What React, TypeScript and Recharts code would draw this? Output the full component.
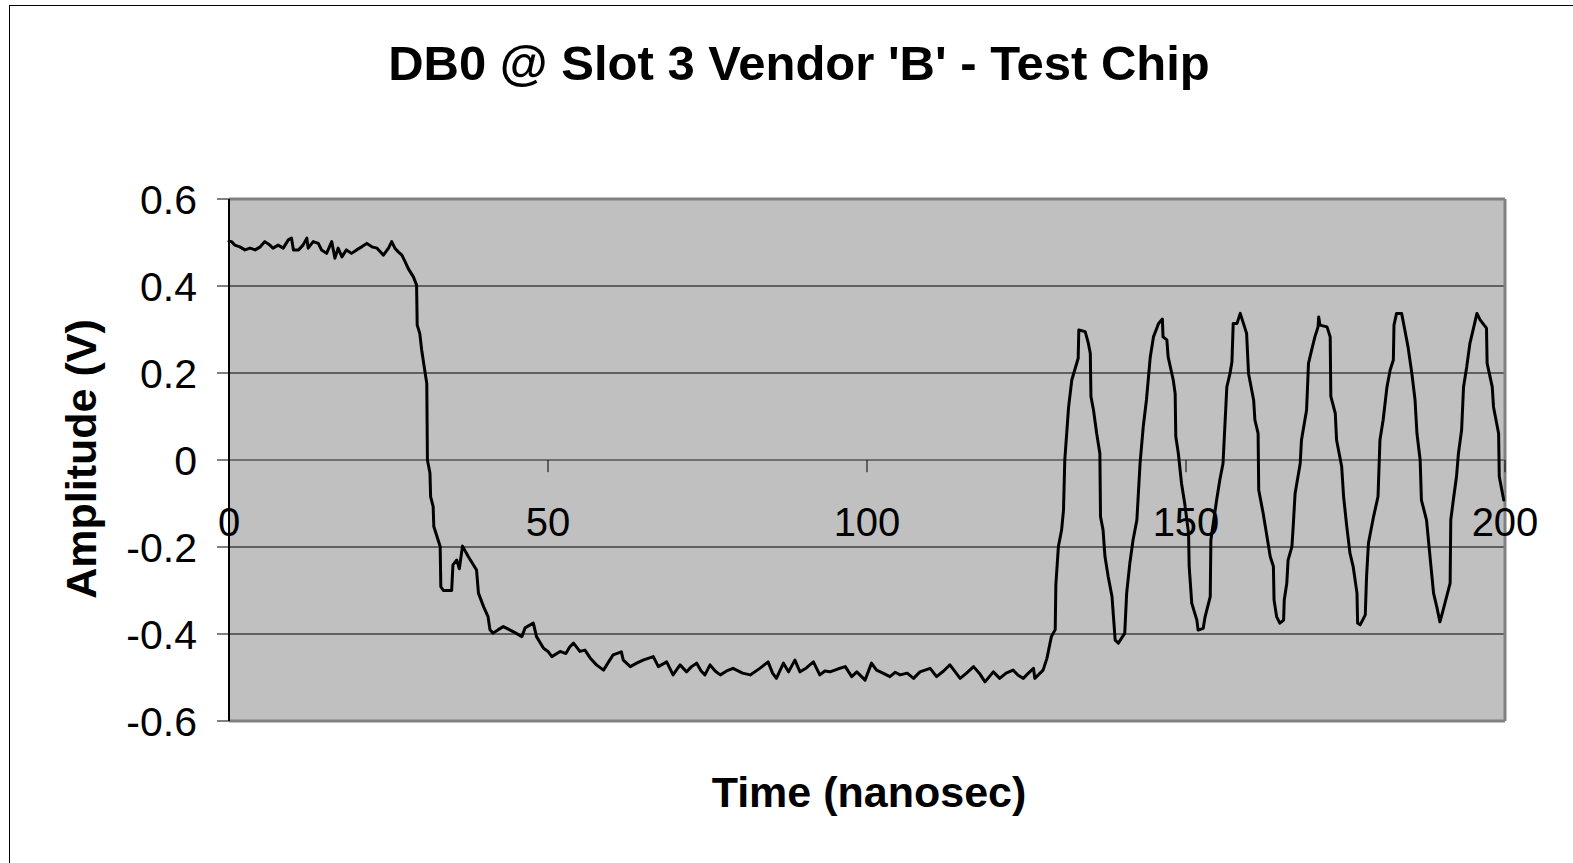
import { LineChart, Line, XAxis, YAxis, CartesianGrid, ReferenceLine } from 'recharts';

// [time ns, amplitude V]
const plateauHigh: [number, number][] = [
  [0, 0.503], [0.4, 0.502], [0.9, 0.494], [1.7, 0.49], [2.5, 0.483], [3.3, 0.487], [4.1, 0.483],
  [4.9, 0.49], [5.6, 0.502], [6.4, 0.494], [6.9, 0.487], [7.7, 0.494], [8.5, 0.487], [9.3, 0.506],
  [9.8, 0.51], [10.1, 0.483], [10.9, 0.483], [11.6, 0.494], [12.2, 0.51], [12.4, 0.487], [13.2, 0.502],
  [14.0, 0.498], [14.5, 0.483], [15.3, 0.475], [16.1, 0.502], [16.6, 0.464], [17.1, 0.487], [17.7, 0.467],
  [18.4, 0.483], [19.2, 0.475], [20.0, 0.483], [20.8, 0.49], [21.6, 0.498], [22.4, 0.49], [23.2, 0.487],
  [24.2, 0.471], [25.0, 0.487], [25.5, 0.502], [26.0, 0.487], [26.5, 0.479],
];

const fallingEdge: [number, number][] = [
  [27.1, 0.471], [27.6, 0.456], [28.1, 0.44], [28.9, 0.421], [29.4, 0.402], [29.5, 0.31], [29.9, 0.291],
  [30.2, 0.253], [30.6, 0.214], [31.0, 0.176], [31.1, 0.0], [31.5, -0.03], [31.6, -0.084], [32.0, -0.107],
  [32.1, -0.153], [33.1, -0.199], [33.2, -0.291], [33.6, -0.3], [34.9, -0.3], [35.1, -0.241], [35.7, -0.23],
  [36.1, -0.25], [36.6, -0.198], [37.5, -0.222], [38.8, -0.253], [39.1, -0.306], [39.9, -0.337],
  [40.6, -0.36], [40.9, -0.39], [41.4, -0.398], [42.2, -0.39], [43.0, -0.383], [44.6, -0.395],
  [45.9, -0.406], [46.4, -0.386], [47.7, -0.375], [48.2, -0.406], [49.3, -0.433], [50.0, -0.44],
  [50.6, -0.452], [51.9, -0.44], [52.8, -0.445], [53.4, -0.43], [54.0, -0.421], [55.0, -0.44],
  [55.8, -0.437], [56.6, -0.455], [57.6, -0.471], [58.7, -0.483],
];

const plateauLow: [number, number][] = [
  [59.5, -0.464], [60.2, -0.448], [61.5, -0.441], [61.8, -0.46], [62.9, -0.475], [63.9, -0.467],
  [64.9, -0.46], [66.5, -0.452], [67.3, -0.475], [68.6, -0.464], [69.6, -0.494], [70.7, -0.471],
  [71.7, -0.487], [72.5, -0.475], [73.3, -0.467], [74.0, -0.485], [74.6, -0.494], [75.4, -0.471],
  [76.2, -0.485], [77.0, -0.494], [78.0, -0.485], [79.0, -0.479], [80.5, -0.49], [81.7, -0.494],
  [83.2, -0.479], [84.5, -0.464], [85.2, -0.49], [85.8, -0.502], [86.9, -0.467], [87.7, -0.487],
  [88.7, -0.46], [89.5, -0.487], [90.5, -0.478], [91.6, -0.464], [92.6, -0.494], [93.4, -0.485],
  [94.2, -0.487], [95.5, -0.48], [96.6, -0.475], [97.6, -0.498], [98.4, -0.487], [99.7, -0.506],
  [100.7, -0.467], [101.5, -0.483], [102.5, -0.49], [103.6, -0.498], [104.4, -0.488], [105.2, -0.494],
  [106.3, -0.49], [107.3, -0.502], [108.3, -0.487], [109.9, -0.479], [110.9, -0.498], [112.0, -0.485],
  [113.0, -0.471], [114.6, -0.502], [115.6, -0.49], [116.7, -0.475], [117.6, -0.49], [118.5, -0.51],
  [119.8, -0.487], [120.8, -0.502], [121.8, -0.49], [122.9, -0.483], [123.7, -0.495], [124.5, -0.502],
  [125.3, -0.49], [126.1, -0.479], [126.3, -0.502], [127.6, -0.483], [128.2, -0.456], [128.9, -0.406],
  [129.5, -0.39],
];

const ringing: [number, number][] = [
  [129.6, -0.287], [130.0, -0.199], [130.5, -0.161], [130.8, -0.115], [131.0, 0], [131.6, 0.122],
  [132.1, 0.184], [133.1, 0.234], [133.2, 0.299], [134.2, 0.295], [134.7, 0.268], [135.0, 0.245],
  [135.1, 0.146], [135.5, 0.115], [136.0, 0.061], [136.5, 0.015], [136.6, -0.13], [137.0, -0.161],
  [137.3, -0.222], [137.8, -0.268], [138.4, -0.314], [138.9, -0.414], [139.4, -0.421], [140.4, -0.398],
  [140.7, -0.306], [141.2, -0.237], [141.7, -0.184], [142.3, -0.138], [142.8, -0.008], [143.3, 0.077],
  [143.8, 0.138], [144.4, 0.237], [144.9, 0.283], [145.7, 0.314], [146.3, 0.324], [146.4, 0.283],
  [147.0, 0.276], [147.2, 0.237], [148.0, 0.184], [148.3, 0.153], [148.4, 0.054], [148.8, 0.015],
  [149.3, -0.054], [149.8, -0.1], [150.4, -0.168], [150.5, -0.245], [150.9, -0.329], [151.7, -0.368],
  [151.9, -0.391], [152.7, -0.387], [153.0, -0.36], [153.8, -0.314], [153.9, -0.184], [154.8, -0.092],
  [155.3, -0.046], [155.8, -0.008], [156.4, 0.168], [156.9, 0.199], [157.2, 0.226], [157.4, 0.314],
  [158.0, 0.314], [158.5, 0.337], [159.5, 0.291], [159.8, 0.199], [160.6, 0.138], [160.8, 0.092],
  [161.3, 0.061], [161.4, -0.069], [162.1, -0.123], [162.6, -0.168], [163.2, -0.222], [163.7, -0.245],
  [163.8, -0.322], [164.2, -0.36], [164.7, -0.375], [165.3, -0.368], [165.4, -0.322], [165.8, -0.283],
  [166.0, -0.23], [166.6, -0.199], [166.8, -0.153], [167.1, -0.077], [167.9, -0.008], [168.1, 0.046],
  [168.9, 0.115], [169.2, 0.222], [169.7, 0.253], [170.2, 0.283], [170.7, 0.306], [170.8, 0.329],
  [171.0, 0.31], [172.1, 0.306], [172.6, 0.283], [172.7, 0.146], [173.4, 0.107], [173.6, 0.046],
  [174.4, -0.015], [174.7, -0.084], [175.2, -0.153], [175.7, -0.214], [176.2, -0.245], [176.8, -0.306],
  [176.9, -0.375], [177.3, -0.379], [178.1, -0.356], [178.3, -0.268], [178.6, -0.191], [179.4, -0.13],
  [180.1, -0.084], [180.4, 0.046], [180.9, 0.092], [181.5, 0.168], [182.0, 0.207], [182.5, 0.23],
  [182.6, 0.31], [183.0, 0.337], [183.8, 0.337], [184.3, 0.299], [184.8, 0.26], [185.4, 0.199],
  [185.9, 0.138], [186.2, 0.061], [186.7, 0], [186.9, -0.092], [187.7, -0.138], [188.3, -0.23],
  [188.8, -0.306], [189.3, -0.337], [189.8, -0.372], [190.3, -0.345], [191.4, -0.283], [191.5, -0.138],
  [191.9, -0.092], [192.4, -0.038], [192.7, 0.015], [193.2, 0.069], [193.5, 0.168], [194.0, 0.214],
  [194.5, 0.268], [195.0, 0.299], [195.6, 0.337], [196.1, 0.322], [197.1, 0.303], [197.2, 0.222],
  [198.0, 0.168], [198.2, 0.122], [199.0, 0.061], [199.1, -0.038], [199.8, -0.092],
];

const yTicks = [0.6, 0.4, 0.2, 0, -0.2, -0.4, -0.6];
const xTicks = [0, 50, 100, 150, 200];

const data = [...plateauHigh, ...fallingEdge, ...plateauLow, ...ringing].map(([t, v]) => ({ t, v }));

const font = '"Liberation Sans", Arial, sans-serif';

export default function App() {
  return (
    <div style={{ position: 'absolute', left: 0, top: 0, width: 1573, height: 863, background: '#fff', overflow: 'hidden' }}>
      <div
        style={{
          position: 'absolute', left: 9, top: 5, width: 1700, height: 1000,
          borderLeft: '1.5px solid #000', borderTop: '1.5px solid #000',
        }}
      />
      <LineChart width={1573} height={863} data={data} margin={{ top: 199, right: 68, bottom: 142, left: 0 }}>
        <CartesianGrid vertical={false} stroke="#000" strokeWidth={1} fill="#C0C0C0" />
        <XAxis type="number" dataKey="t" domain={[0, 200]} hide />
        <YAxis
          type="number"
          domain={[-0.6, 0.6]}
          ticks={yTicks}
          interval={0}
          width={229}
          axisLine={{ stroke: '#000', strokeWidth: 2 }}
          tickLine={{ stroke: '#000', strokeWidth: 1 }}
          tickSize={12}
          tickMargin={20}
          tick={{ fill: '#000', fontSize: 41, fontFamily: font }}
          tickFormatter={(v: number) => String(v)}
        />
        <ReferenceLine y={0.6} stroke="#808080" strokeWidth={3} />
        <ReferenceLine y={-0.6} stroke="#808080" strokeWidth={3} />
        <ReferenceLine x={200} stroke="#808080" strokeWidth={3} />
        <ReferenceLine y={0} stroke="#707070" strokeWidth={2} />
        {xTicks.map((t) => (
          <ReferenceLine
            key={t}
            segment={[{ x: t, y: 0 }, { x: t, y: -0.028 }]}
            stroke="#000"
            strokeWidth={1}
            label={{ value: String(t), position: 'bottom', offset: 35, fill: '#000', fontSize: 40, fontFamily: font }}
          />
        ))}
        <Line
          type="linear"
          dataKey="v"
          stroke="#000"
          strokeWidth={3}
          strokeLinejoin="round"
          strokeLinecap="round"
          dot={false}
          activeDot={false}
          isAnimationActive={false}
        />
      </LineChart>
      <svg width={1573} height={863} style={{ position: 'absolute', left: 0, top: 0, pointerEvents: 'none' }}>
        <text x={799} y={80} textAnchor="middle" fontSize={49} fontWeight="bold" fontFamily={font} fill="#000">
          DB0 @ Slot 3 Vendor 'B' - Test Chip
        </text>
        <text
          x={96}
          y={459}
          textAnchor="middle"
          fontSize={43}
          fontWeight="bold"
          fontFamily={font}
          fill="#000"
          transform="rotate(-90 96 459)"
        >
          Amplitude (V)
        </text>
        <text x={869} y={807} textAnchor="middle" fontSize={43} fontWeight="bold" fontFamily={font} fill="#000">
          Time (nanosec)
        </text>
      </svg>
    </div>
  );
}
